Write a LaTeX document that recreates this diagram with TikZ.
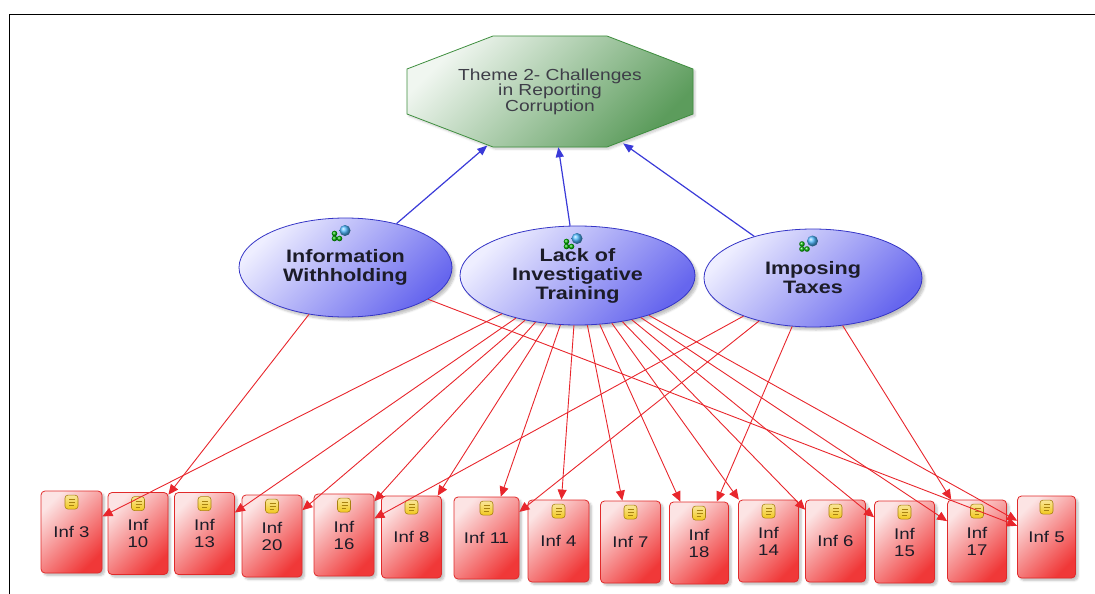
\documentclass[tikz,border=0pt]{standalone}
\usepackage{fontspec}
\setmainfont{Liberation Sans}[FakeStretch=1.2]
\usetikzlibrary{shapes.geometric, arrows.meta, positioning, calc, shadows.blur}
\definecolor{themegreen}{HTML}{3E8E3E}
\definecolor{themegreenlt}{HTML}{F0F6F0}
\definecolor{themegreendk}{HTML}{5C9C5C}
\definecolor{codeblue}{HTML}{3535C6}
\definecolor{codebluelt}{HTML}{EEEEFF}
\definecolor{codebluedk}{HTML}{6666EE}
\definecolor{infred}{HTML}{E02A2A}
\definecolor{infredlt}{HTML}{FCE4E4}
\definecolor{infreddk}{HTML}{F03838}
\definecolor{linkblue}{HTML}{3A3AD8}
\definecolor{linkred}{HTML}{E8262C}
\definecolor{docyellow}{HTML}{F2C81E}
\definecolor{docyellowdk}{HTML}{A88210}
\definecolor{txtdark}{HTML}{1C1C28}

% small page icon on top of a box
\newcommand{\docicon}[1]{%
  \shade[top color=docyellow!45, bottom color=docyellow, draw=docyellowdk, line width=0.6pt, rounded corners=3pt]
    ($(#1.north)+(-6.5,4.5)$) rectangle ($(#1.north)+(6.5,18.5)$);
  \draw[docyellowdk, line width=0.5pt] ($(#1.north)+(-2.5,9)$) -- ++(6,0)
    ($(#1.north)+(-2.5,12)$) -- ++(6,0) ($(#1.north)+(-2.5,15)$) -- ++(4.5,0);
}
% sphere and balls icon of a code
\newcommand{\codeicon}[1]{%
  \shade[ball color=green!70!black] ($(#1.center)+(-11,-34)$) circle (2.8pt);
  \shade[ball color=green!70!black] ($(#1.center)+(-11,-29)$) circle (2.8pt);
  \shade[ball color=green!70!black] ($(#1.center)+(-6,-29)$) circle (2.8pt);
  \shade[ball color=cyan!60!blue!70] ($(#1.center)+(-0.5,-37)$) circle (5.5pt);
}

\begin{document}
\begin{tikzpicture}[x=1pt, y=-1pt,
    themeoct/.style={draw=themegreen, line width=0.8pt, top color=themegreenlt,
      bottom color=themegreendk, shading angle=45,
      blur shadow={shadow blur steps=5, shadow xshift=2pt, shadow yshift=-2pt, shadow opacity=20}},
    themetext/.style={rectangle, minimum width=286pt, minimum height=111pt, inner sep=0pt,
      font=\fontsize{16}{15.5}\selectfont, text=txtdark!85, align=center},
    codeell/.style={ellipse, draw=codeblue, line width=0.8pt, top color=codebluelt,
      bottom color=codebluedk, shading angle=45, inner sep=0pt, align=center,
      font=\fontsize{18}{19}\selectfont\bfseries, text=txtdark,
      blur shadow={shadow blur steps=6, shadow xshift=3pt, shadow yshift=-3pt, shadow opacity=25}},
    infbox/.style={rectangle, rounded corners=4pt, draw=infred, line width=0.8pt,
      top color=infredlt, bottom color=infreddk, shading angle=45,
      minimum height=82pt, inner sep=1pt, align=center,
      font=\fontsize{15.5}{17}\selectfont, text=txtdark,
      blur shadow={shadow blur steps=5, shadow xshift=2.5pt, shadow yshift=-2.5pt, shadow opacity=25}},
    themearrow/.style={draw=linkblue, line width=1.2pt, -{Triangle[length=10pt, width=8pt]}},
    infarrow/.style={draw=linkred, line width=0.9pt, -{Triangle[length=10pt, width=9pt]}}]

  \useasboundingbox (0,0) rectangle (1095,594);
  \draw[line width=1.3pt] (9.5,600) -- (9.5,14.5) -- (1100,14.5);

  % theme and codes
  \coordinate (themec) at (550,91.5);
  \shade[themeoct, shift={(themec)}] (-57,-55.5) -- (57,-55.5) -- (143,-22.5) -- (143,22.5)
    -- (57,55.5) -- (-57,55.5) -- (-143,22.5) -- (-143,-22.5) -- cycle;
  \node[themetext] (theme) at (themec) {Theme 2- Challenges\\in Reporting\\Corruption};
  \node[codeell, minimum width=213pt, minimum height=99pt] (iw) at (345.5,267.5) {Information\\Withholding};
  \node[codeell, minimum width=235pt, minimum height=99pt] (lit) at (577.5,275.5) {Lack of\\Investigative\\Training};
  \node[codeell, minimum width=218pt, minimum height=98pt] (it) at (813,278) {Imposing\\Taxes};
  \foreach \c in {iw, lit, it} \codeicon{\c};

  % informants
  \foreach \n/\x/\y/\w/\lbl in {inf3/71.5/532/61/{Inf 3}, inf10/138/533.5/60/{Inf\\10},
      inf13/204.5/533.5/60/{Inf\\13}, inf20/272/536/60/{Inf\\20}, inf16/344/535/60/{Inf\\16},
      inf8/411.5/537/60/{Inf 8}, inf11/486.5/538/65/{Inf 11}, inf4/558.5/541/61/{Inf 4},
      inf7/630.5/542/60/{Inf 7}, inf18/699/543/59/{Inf\\18}, inf14/768.5/541/60/{Inf\\14},
      inf6/835.5/541/60/{Inf 6}, inf15/904.5/542/60/{Inf\\15}, inf17/977/541/59/{Inf\\17},
      inf5/1046.5/537/58/{Inf 5}} {
    \node[infbox, minimum width=\w pt] (\n) at (\x,\y) {\lbl};
    \docicon{\n}
  }

  % links (the octagon sits inside the text box, so the ends are pulled in)
  \foreach \s/\sh in {iw/-2.5, lit/0, it/-6.5} \draw[themearrow, shorten >=\sh pt] (\s) -- (theme);
  \foreach \t in {inf10, inf5} \draw[infarrow] (iw) -- (\t);
  \foreach \t in {inf3, inf13, inf20, inf16, inf8, inf11, inf4, inf7, inf18, inf14, inf6, inf15, inf17, inf5}
    \draw[infarrow] (lit) -- (\t);
  \foreach \t in {inf16, inf11, inf18, inf17} \draw[infarrow] (it) -- (\t);
\end{tikzpicture}
\end{document}
